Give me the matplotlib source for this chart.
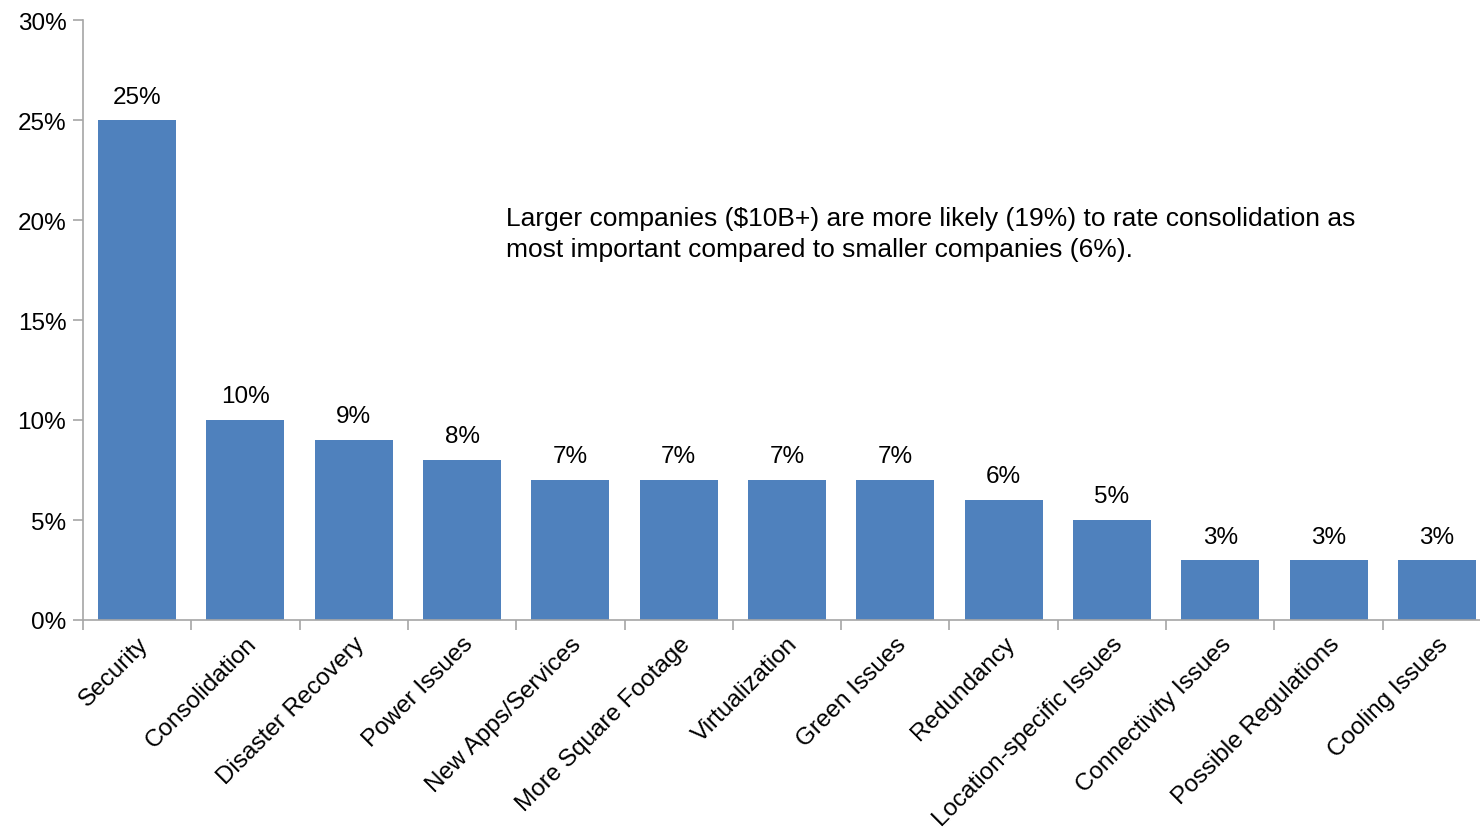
import matplotlib.pyplot as plt
from matplotlib.ticker import FuncFormatter

plt.rcParams['font.family'] = ['Liberation Sans', 'DejaVu Sans']

categories = ['Security', 'Consolidation', 'Disaster Recovery', 'Power Issues',
              'New Apps/Services', 'More Square Footage', 'Virtualization',
              'Green Issues', 'Redundancy', 'Location-specific Issues',
              'Connectivity Issues', 'Possible Regulations', 'Cooling Issues']
values = [25, 10, 9, 8, 7, 7, 7, 7, 6, 5, 3, 3, 3]
note = ('Larger companies ($10B+) are more likely (19%) to rate consolidation as\n'
        'most important compared to smaller companies (6%).')

bar_color = '#4F81BD'
axis_color = '#A6A6A6'

fig = plt.figure(figsize=(14.8, 8.29), dpi=100)
ax = fig.add_axes([83 / 1480, 208 / 829, 1408 / 1480, 600 / 829])

x = range(len(categories))
bars = ax.bar(x, values, width=0.72, color=bar_color, zorder=2)

for b, v in zip(bars, values):
    ax.annotate(f'{v}%', (b.get_x() + b.get_width() / 2, v),
                xytext=(0, 9), textcoords='offset points',
                ha='center', va='bottom', fontsize=17.5)

ax.set_xlim(-0.5, len(categories) - 0.5)
ax.set_ylim(0, 30)
ax.set_yticks(range(0, 31, 5))
ax.yaxis.set_major_formatter(FuncFormatter(lambda v, p: f'{v:.0f}%'))

# category labels sit under bar centres, tick marks between categories
ax.set_xticks(list(x))
ax.set_xticklabels(categories, rotation=45, ha='right', rotation_mode='anchor', fontsize=17.5)
ax.set_xticks([i - 0.5 for i in range(len(categories) + 1)], minor=True)
ax.tick_params(axis='x', which='major', length=0, pad=9)
ax.tick_params(axis='x', which='minor', length=7, color=axis_color, width=1.2)
ax.tick_params(axis='y', length=7, color=axis_color, width=1.2, labelsize=17.5, pad=5)

for s in ['top', 'right']:
    ax.spines[s].set_visible(False)
for s in ['left', 'bottom']:
    ax.spines[s].set_color(axis_color)
    ax.spines[s].set_linewidth(1.2)

fig.text(506 / 1480, 1 - 207 / 829, note, ha='left', va='top', fontsize=19, linespacing=1.36)

fig.savefig('out.png', dpi=100)
